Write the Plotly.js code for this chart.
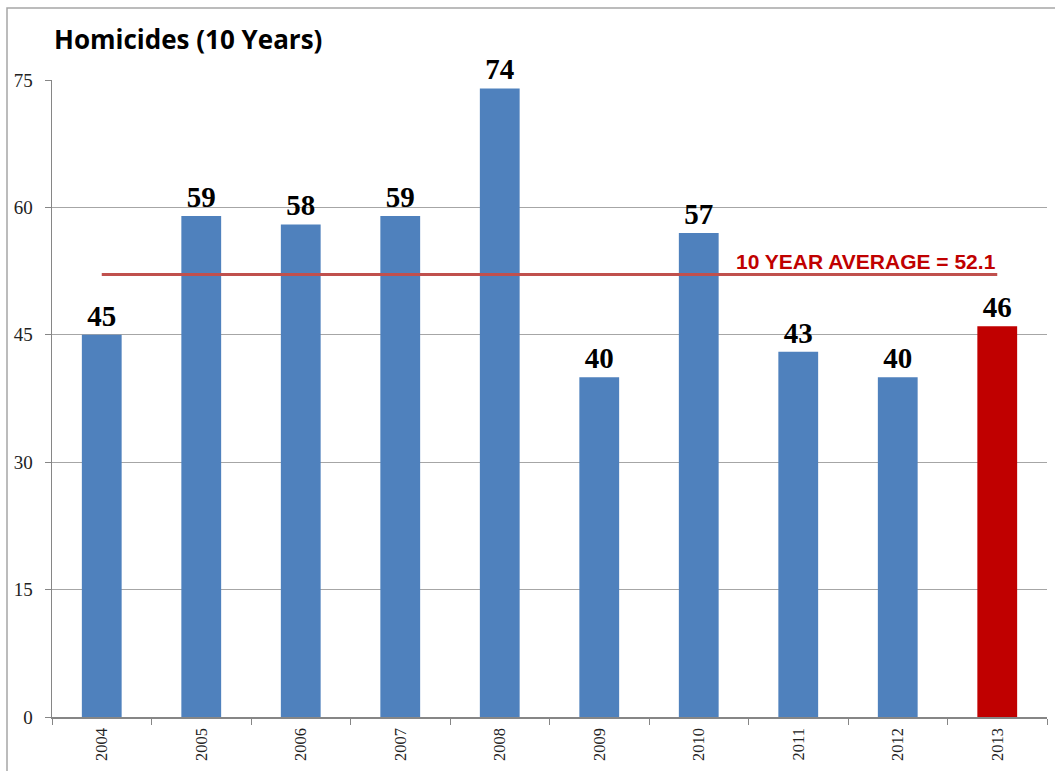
<!DOCTYPE html>
<html>
<head>
<meta charset="utf-8">
<script src="https://cdn.plot.ly/plotly-3.0.1.min.js"></script>
<style>
html,body{margin:0;padding:0;background:#fff;}
#chart{width:1055px;height:771px;}
</style>
</head>
<body>
<div id="chart"></div>
<script>
const years = ["2004","2005","2006","2007","2008","2009","2010","2011","2012","2013"];
const homicides = [45, 59, 58, 59, 74, 40, 57, 43, 40, 46];
const barColors = ["#4F81BD","#4F81BD","#4F81BD","#4F81BD","#4F81BD","#4F81BD","#4F81BD","#4F81BD","#4F81BD","#C00000"];
const averageValue = 52.1;
const averageLabel = "10 YEAR AVERAGE = 52.1";
const yTicks = [0, 15, 30, 45, 60, 75];
const chartTitle = "Homicides (10 Years)";

const bars = {
  type: "bar",
  x: years,
  y: homicides,
  marker: {color: barColors},
  text: homicides.map(String),
  textposition: "outside",
  cliponaxis: false,
  textfont: {family: "Liberation Serif, Times New Roman, serif", size: 29, color: "#000", weight: "bold"},
  hoverinfo: "x+y",
  showlegend: false
};

const avgLine = {
  type: "scatter",
  mode: "lines",
  x: [years[0], years[years.length - 1]],
  y: [averageValue, averageValue],
  line: {color: "#C0504D", width: 3},
  showlegend: false,
  hoverinfo: "skip"
};

const layout = {
  width: 1055,
  height: 771,
  margin: {l: 52, r: 8, t: 80, b: 54},
  paper_bgcolor: "#fff",
  plot_bgcolor: "#fff",
  bargap: 0.6,
  title: {
    text: chartTitle,
    x: 54 / 1055, xanchor: "left", xref: "container",
    y: 1 - 40 / 771, yanchor: "middle", yref: "container",
    font: {family: "Open Sans, Liberation Sans, Arial, sans-serif", size: 26, color: "#000", weight: "bold"}
  },
  xaxis: {
    type: "category",
    categoryorder: "array",
    categoryarray: years,
    range: [-0.5, years.length - 0.5],
    autorange: false,
    tickangle: -90,
    tickson: "boundaries",
    ticks: "outside",
    ticklen: 6,
    tickcolor: "#868686",
    showline: true,
    linecolor: "#868686",
    linewidth: 1.5,
    showgrid: false,
    ticklabelstandoff: 3,
    tickfont: {family: "Liberation Serif, Times New Roman, serif", size: 16.5, color: "#222"},
    fixedrange: true
  },
  yaxis: {
    range: [0, 75],
    autorange: false,
    tickvals: yTicks,
    ticktext: yTicks.map(String),
    ticks: "outside",
    ticklen: 6,
    tickcolor: "#868686",
    showline: true,
    linecolor: "#868686",
    linewidth: 1.5,
    showgrid: true,
    gridcolor: "#A6A6A6",
    gridwidth: 1,
    zeroline: false,
    ticklabelstandoff: 8,
    tickfont: {family: "Liberation Serif, Times New Roman, serif", size: 19, color: "#222"},
    fixedrange: true
  },
  annotations: [{
    x: years.length - 1, xref: "x",
    y: averageValue, yref: "y",
    xanchor: "right", yanchor: "bottom",
    xshift: 1, yshift: 0,
    text: averageLabel,
    showarrow: false,
    font: {family: "Liberation Sans, Arial, sans-serif", size: 21, color: "#C00000", weight: "bold"}
  }],
  shapes: [{
    type: "rect", xref: "paper", yref: "paper",
    x0: (7 - 52) / 995, x1: 1.2,
    y0: -0.2, y1: (717 - 8) / 637,
    line: {color: "#A6A6A6", width: 1.5},
    fillcolor: "rgba(0,0,0,0)",
    layer: "below"
  }]
};

Plotly.newPlot("chart", [bars, avgLine], layout, {displayModeBar: false, staticPlot: true});
</script>
</body>
</html>
